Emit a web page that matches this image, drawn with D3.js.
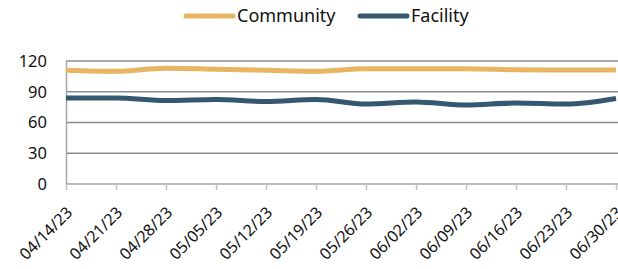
<!DOCTYPE html>
<html><head><meta charset="utf-8">
<script src="https://cdn.jsdelivr.net/npm/d3@7"></script>
<style>body{margin:0;background:#fff}svg{display:block;font-family:"Noto Sans",sans-serif}</style>
</head><body><svg id="c" width="618" height="269"></svg>
<script>
const dates = ["04/14/23","04/21/23","04/28/23","05/05/23","05/12/23","05/19/23","05/26/23","06/02/23","06/09/23","06/16/23","06/23/23","06/30/23"];
const community = [111,110,113,112,111,110,112.5,112.5,112.5,111.5,111.3,111.3];
const facility = [84,84,81.5,82.5,80.5,82.5,78,80,77,79,78,83.5];
const yTicks = [0,30,60,90,120];
const seriesNames = ["Community","Facility"];
const colors = ["#E8B562","#34586F"];

const svg = d3.select("#c");
const x = d3.scalePoint().domain(dates).range([66,616]);
const y = d3.scaleLinear().domain([0,120]).range([184,61]);

// gridlines
svg.append("g").selectAll("line").data(yTicks.filter(d=>d>0)).join("line")
  .attr("x1",66).attr("x2",618).attr("y1",d=>y(d)).attr("y2",d=>y(d))
  .attr("stroke","#8c8c8c").attr("stroke-width",1.5);

// y axis
const ya = svg.append("g").attr("transform","translate(66,0)")
  .call(d3.axisLeft(y).tickValues(yTicks).tickSize(0).tickPadding(19));
ya.select(".domain").attr("stroke","#a6a6a6").attr("stroke-width",1.5);
ya.selectAll("text").attr("font-size",16.5).attr("fill","#111").attr("font-family","Noto Sans");

// x axis
const xa = svg.append("g").attr("transform","translate(0,184)")
  .call(d3.axisBottom(x).tickSize(6).tickSizeOuter(0));
xa.select(".domain").attr("stroke","#a6a6a6").attr("stroke-width",1.5).attr("d","M66,0H618");
xa.selectAll(".tick line").attr("stroke","#c0c0c0").attr("stroke-width",1.5);
xa.selectAll("text").attr("font-size",16).attr("fill","#111").attr("font-family","Noto Sans")
  .attr("text-anchor","end").attr("x",0).attr("y",0).attr("dy",0).attr("dx",0)
  .attr("transform","translate(7,29.5) rotate(-45)");

const line = d3.line().x((d,i)=>x(dates[i])).y(d=>y(d)).curve(d3.curveMonotoneX);
[community,facility].forEach((s,k)=>{
  svg.append("path").datum(s).attr("d",line).attr("fill","none")
    .attr("stroke",colors[k]).attr("stroke-width",5).attr("stroke-linecap","butt");
});

// legend
const legX = [186,360];
seriesNames.forEach((n,k)=>{
  const g = svg.append("g").attr("transform",`translate(${legX[k]},16)`);
  g.append("line").attr("x1",0).attr("x2",47).attr("stroke",colors[k]).attr("stroke-width",5).attr("stroke-linecap","round");
  g.append("text").attr("x",51).attr("y",6).attr("font-size",18).attr("fill","#111").text(n);
});
</script></body></html>
